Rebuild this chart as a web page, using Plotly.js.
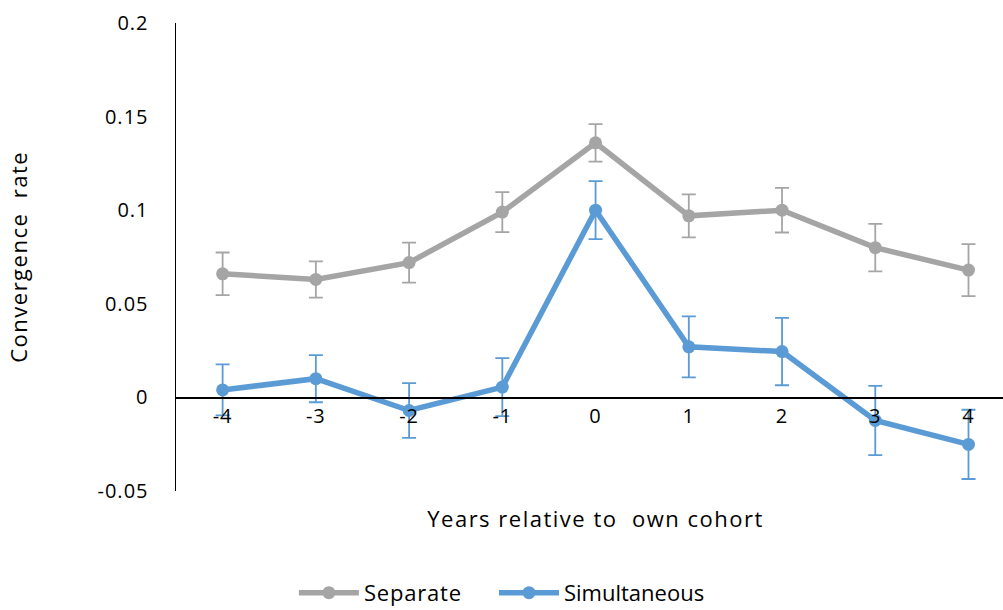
<!DOCTYPE html>
<html>
<head>
<meta charset="utf-8">
<script src="https://cdn.plot.ly/plotly-3.0.1.min.js"></script>
<style>
  html, body { margin: 0; padding: 0; background: #fff; }
  #chart { width: 1003px; height: 610px; }
  #chart .xtick text, #chart .ytick text { letter-spacing: 1px; }
  #chart .annotation-text { letter-spacing: 1.5px; }
  #chart .legendtext { letter-spacing: 0.8px; }
</style>
</head>
<body>
<div id="chart"></div>
<script>
// Years relative to own cohort
const years = [-4, -3, -2, -1, 0, 1, 2, 3, 4];
const yearLabels = ['-4', '-3', '-2', '-1', '0', '1', '2', '3', '4'];

// Convergence rate estimates and their error-bar half-widths
const separate = [0.066, 0.063, 0.072, 0.099, 0.136, 0.097, 0.100, 0.080, 0.068];
const separateErr = [0.0114, 0.0097, 0.0107, 0.0107, 0.0100, 0.0115, 0.0119, 0.0127, 0.0139];
const simultaneous = [0.004, 0.010, -0.007, 0.0055, 0.100, 0.027, 0.0245, -0.0123, -0.0251];
const simultaneousErr = [0.0136, 0.0126, 0.0146, 0.0155, 0.0155, 0.0163, 0.018, 0.0185, 0.0185];

const yTicks = [-0.05, 0, 0.05, 0.1, 0.15, 0.2];
const yTickLabels = ['-0.05', '0', '0.05', '0.1', '0.15', '0.2'];

const FONT = '"Open Sans", Lato, sans-serif';
const TICK_FS = 20;
const TITLE_FS = 22;
const GREY = '#a5a5a5';
const BLUE = '#5b9bd5';

function series(name, y, err, color, legendId) {
  return {
    type: 'scatter',
    mode: 'lines+markers',
    name: name,
    legend: legendId,
    x: years,
    y: y,
    line: { color: color, width: 5.5 },
    marker: { color: color, size: 13 },
    error_y: { type: 'data', array: err, visible: true, color: color, thickness: 1.8, width: 7 }
  };
}

const data = [
  series('Separate', separate, separateErr, GREY, 'legend'),
  series('Simultaneous', simultaneous, simultaneousErr, BLUE, 'legend2')
];

// one legend box per series, side by side under the x-axis title
function legendBox(x) {
  return {
    orientation: 'h',
    xref: 'container', yref: 'container',
    x: x, xanchor: 'left',
    y: 0.028, yanchor: 'middle',
    font: { family: FONT, size: TITLE_FS, color: '#000' },
    itemwidth: 60
  };
}

const layout = {
  width: 1003,
  height: 610,
  margin: { l: 176, r: 0, t: 23, b: 119 },
  paper_bgcolor: '#fff',
  plot_bgcolor: '#fff',
  font: { family: FONT, size: TICK_FS, color: '#000' },
  showlegend: true,
  legend: legendBox(0.293),
  legend2: legendBox(0.4925),
  xaxis: {
    range: [-4.5, 4.37],
    anchor: 'free',
    position: 0.2,
    tickvals: years,
    ticktext: yearLabels,
    showgrid: false,
    zeroline: false,
    showline: true,
    linecolor: '#000',
    linewidth: 1.5,
    ticks: '',
    tickfont: { family: FONT, size: TICK_FS, color: '#000' }
  },
  yaxis: {
    range: [-0.05, 0.2],
    tickvals: yTicks,
    ticktext: yTickLabels,
    showgrid: false,
    zeroline: false,
    showline: true,
    linecolor: '#000',
    linewidth: 1.5,
    ticks: '',
    ticklabelstandoff: 22,
    tickfont: { family: FONT, size: TICK_FS, color: '#000' }
  },
  annotations: [
    {
      text: 'Years relative to  own cohort',
      xref: 'paper', yref: 'paper',
      x: 0.507, y: -0.058,
      xanchor: 'center', yanchor: 'middle',
      showarrow: false,
      font: { family: FONT, size: TITLE_FS, color: '#000' }
    },
    {
      text: 'Convergence  rate',
      xref: 'paper', yref: 'paper',
      x: -0.191, y: 0.5,
      xanchor: 'center', yanchor: 'middle',
      textangle: -90,
      showarrow: false,
      font: { family: FONT, size: TITLE_FS, color: '#000' }
    }
  ]
};

Plotly.newPlot('chart', data, layout, { displayModeBar: false, staticPlot: true });
</script>
</body>
</html>
